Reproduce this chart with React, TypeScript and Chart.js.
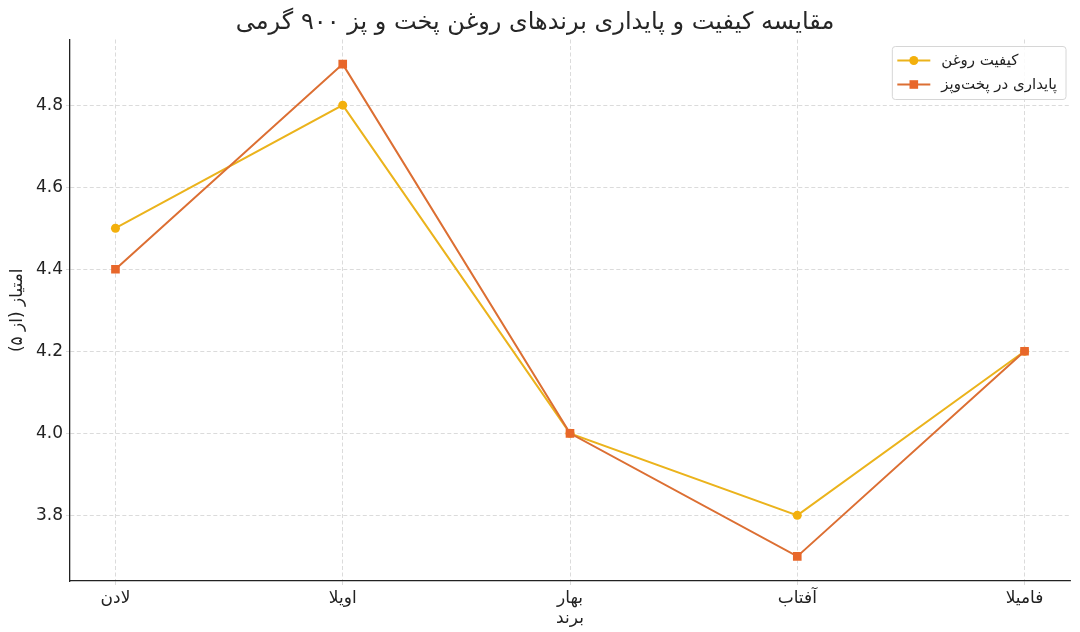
import React, { useEffect, useRef } from "react";
import { Chart, registerables } from "chart.js";

Chart.register(...registerables);

const brands = ["لادن", "اویلا", "بهار", "آفتاب", "فامیلا"];
const qualityScores = [4.5, 4.8, 4.0, 3.8, 4.2];
const stabilityScores = [4.4, 4.9, 4.0, 3.7, 4.2];
const yTickValues = [3.8, 4.0, 4.2, 4.4, 4.6, 4.8];
const seriesNames = ["کیفیت روغن", "پایداری در پخت‌وپز"];
const titleText = "مقایسه کیفیت و پایداری برندهای روغن پخت و پز ۹۰۰ گرمی";
const xTitle = "برند";
const yTitle = "امتیاز (از ۵)\u200F";

const FONT = '"DejaVu Sans", "Noto Sans", sans-serif';
const qualityLine = "#ebb31c";
const qualityPoint = "#f3b00c";
const stabilityLine = "#dc6f33";
const stabilityPoint = "#e8672a";
const gridColor = "#d2d2d2";
const axisColor = "#222222";

const boxLegend = {
  id: "boxLegend",
  afterDraw(chart: any) {
    const ctx = chart.ctx as CanvasRenderingContext2D;
    const area = chart.chartArea;
    ctx.save();
    ctx.font = `15px ${FONT}`;
    const ds = chart.data.datasets;
    const widths = ds.map((d: any) => ctx.measureText(d.label).width);
    const maxW = Math.max(...widths);
    const boxW = 49 + maxW + 9;
    const right = area.right - 4;
    const left = right - boxW;
    const top = area.top + 7;
    const h = 53;
    ctx.beginPath();
    const r = 3;
    ctx.moveTo(left + r, top);
    ctx.lineTo(left + boxW - r, top);
    ctx.arcTo(left + boxW, top, left + boxW, top + r, r);
    ctx.lineTo(left + boxW, top + h - r);
    ctx.arcTo(left + boxW, top + h, left + boxW - r, top + h, r);
    ctx.lineTo(left + r, top + h);
    ctx.arcTo(left, top + h, left, top + h - r, r);
    ctx.lineTo(left, top + r);
    ctx.arcTo(left, top, left + r, top, r);
    ctx.closePath();
    ctx.fillStyle = "rgba(255,255,255,0.85)";
    ctx.fill();
    ctx.strokeStyle = "#d6d6d6";
    ctx.lineWidth = 1;
    ctx.stroke();

    ds.forEach((d: any, i: number) => {
      const cy = top + 14 + i * 24;
      ctx.beginPath();
      ctx.moveTo(left + 5, cy);
      ctx.lineTo(left + 38, cy);
      ctx.strokeStyle = d.borderColor;
      ctx.lineWidth = 2;
      ctx.stroke();
      ctx.fillStyle = d.pointBackgroundColor;
      ctx.beginPath();
      if (d.pointStyle === "rect") {
        ctx.rect(left + 21.5 - 4.3, cy - 4.3, 8.6, 8.6);
      } else {
        ctx.arc(left + 21.5, cy, 4.5, 0, Math.PI * 2);
      }
      ctx.fill();
      ctx.fillStyle = "#222";
      ctx.textAlign = "left";
      ctx.textBaseline = "middle";
      ctx.fillText(d.label, left + 49, cy + 1);
    });
    ctx.restore();
  },
};

export default function App() {
  const ref = useRef<HTMLCanvasElement | null>(null);

  useEffect(() => {
    document.body.style.margin = "0";
    const canvas = ref.current;
    if (!canvas) return;
    const chart = new Chart(canvas, {
      type: "line",
      data: {
        datasets: [
          {
            label: seriesNames[0],
            data: qualityScores.map((y, i) => ({ x: i, y })),
            borderColor: qualityLine,
            backgroundColor: qualityPoint,
            pointBackgroundColor: qualityPoint,
            pointBorderColor: qualityPoint,
            pointStyle: "circle",
            pointRadius: 4.5,
            pointBorderWidth: 0,
            borderWidth: 2,
            tension: 0,
            order: 1,
          },
          {
            label: seriesNames[1],
            data: stabilityScores.map((y, i) => ({ x: i, y })),
            borderColor: stabilityLine,
            backgroundColor: stabilityPoint,
            pointBackgroundColor: stabilityPoint,
            pointBorderColor: stabilityPoint,
            pointStyle: "rect",
            pointRadius: 6.1,
            pointBorderWidth: 0,
            borderWidth: 2,
            tension: 0,
            order: 0,
          },
        ] as any,
      },
      options: {
        responsive: false,
        animation: false,
        devicePixelRatio: 1,
        layout: { padding: { left: 0, right: 10, top: 0, bottom: 0 } },
        plugins: {
          legend: { display: false },
          tooltip: { enabled: false },
          title: {
            display: true,
            text: titleText,
            color: "#262626",
            font: { family: FONT, size: 24, weight: "normal", lineHeight: 1.2 },
            padding: { top: 8, bottom: 2.7 },
          },
        },
        scales: {
          x: {
            type: "linear",
            min: -0.2,
            max: 4.2,
            afterBuildTicks: (axis: any) => {
              axis.ticks = brands.map((_, i) => ({ value: i }));
            },
            afterFit: (axis: any) => {
              axis.height = 51;
            },
            ticks: {
              callback: (v: any) => brands[Math.round(Number(v))] ?? "",
              color: axisColor,
              font: { family: FONT, size: 17 },
              padding: 3,
              maxRotation: 0,
              autoSkip: false,
            },
            grid: { color: gridColor, lineWidth: 0.8, tickLength: 4, tickColor: gridColor },
            border: { display: true, color: axisColor, width: 1.3, dash: [4, 2.5] },
            title: {
              display: true,
              text: xTitle,
              color: axisColor,
              font: { family: FONT, size: 17, lineHeight: 1.2 },
              padding: { top: 0, bottom: 3 },
            },
          },
          y: {
            type: "linear",
            min: 3.64,
            max: 4.96,
            afterBuildTicks: (axis: any) => {
              axis.ticks = yTickValues.map((v) => ({ value: v }));
            },
            afterFit: (axis: any) => {
              axis.width = 70;
            },
            ticks: {
              callback: (v: any) => Number(v).toFixed(1),
              color: axisColor,
              font: { family: FONT, size: 17 },
              padding: 3,
            },
            grid: { color: gridColor, lineWidth: 0.8, tickLength: 4, tickColor: gridColor },
            border: { display: true, color: axisColor, width: 1.3, dash: [4, 2.5] },
            title: {
              display: true,
              text: yTitle,
              color: axisColor,
              font: { family: FONT, size: 17, lineHeight: 1.2 },
              padding: { top: 7.8, bottom: 0 },
            },
          },
        },
      } as any,
      plugins: [boxLegend],
    });
    return () => chart.destroy();
  }, []);

  return (
    <div style={{ width: 1080, height: 632 }}>
      <canvas ref={ref} width={1080} height={632} dir="rtl" style={{ display: "block" }} />
    </div>
  );
}
